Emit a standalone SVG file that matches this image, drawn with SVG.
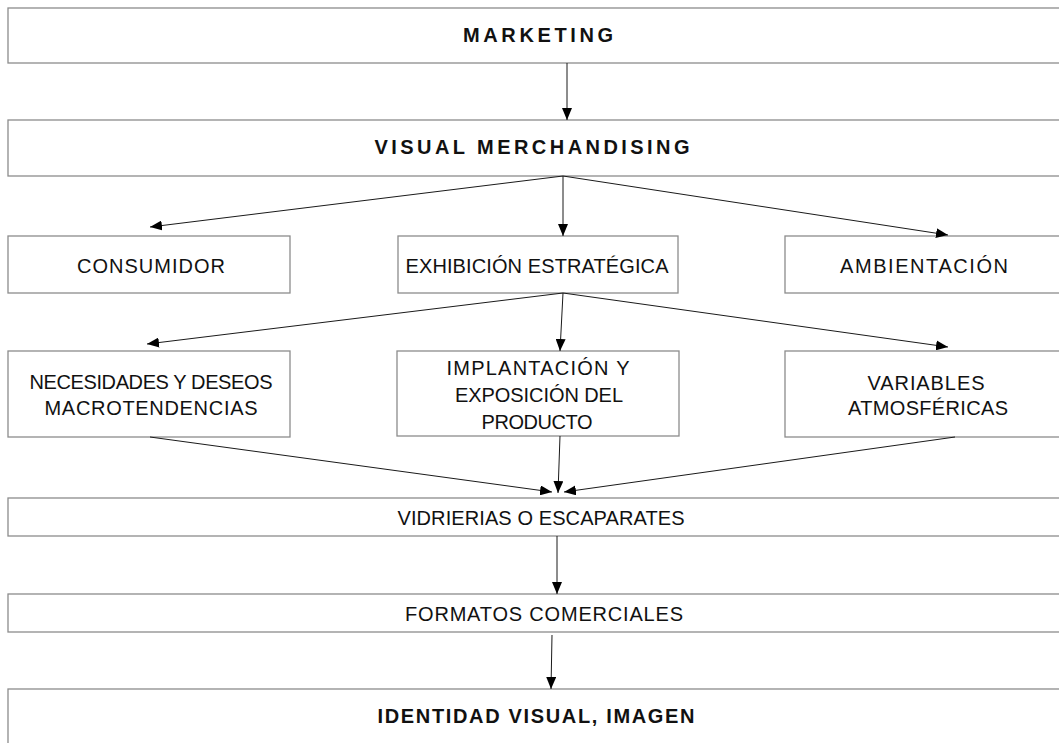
<svg xmlns="http://www.w3.org/2000/svg" width="1059" height="743" viewBox="0 0 1059 743">
<style>
.box{fill:#fff;stroke:#8c8c8c;stroke-width:1.3}
.t{font-family:"Liberation Sans",Arial,sans-serif;font-size:20px;fill:#111;text-anchor:middle;dominant-baseline:central}
.b{font-weight:bold;font-size:20px}
.c{stroke:#1a1a1a;stroke-width:1;fill:none;marker-end:url(#ah)}
</style>
<defs>
<marker id="ah" markerUnits="userSpaceOnUse" markerWidth="12" markerHeight="10" refX="12" refY="5" orient="auto">
<path d="M0,0 L12,5 L0,10 z" fill="#000"/>
</marker>
</defs>
<rect width="1059" height="743" fill="#fff"/>
<g id="n-marketing"><rect class="box" x="8" y="8" width="1070" height="55"/><text class="t b" x="538" y="35" textLength="150" lengthAdjust="spacing">MARKETING</text></g>
<g id="n-visual"><rect class="box" x="8" y="120" width="1070" height="56"/><text class="t b" x="532" y="147" textLength="315" lengthAdjust="spacing">VISUAL MERCHANDISING</text></g>
<g id="n-consumidor"><rect class="box" x="8" y="236" width="282" height="57"/><text class="t" x="151" y="266" textLength="148" lengthAdjust="spacing">CONSUMIDOR</text></g>
<g id="n-exhibicion"><rect class="box" x="398" y="236" width="280" height="57"/><text class="t" x="537" y="266" textLength="263" lengthAdjust="spacing">EXHIBICIÓN ESTRATÉGICA</text></g>
<g id="n-ambientacion"><rect class="box" x="785" y="236" width="300" height="57"/><text class="t" x="924" y="266" textLength="168" lengthAdjust="spacing">AMBIENTACIÓN</text></g>
<g id="n-necesidades"><rect class="box" x="8" y="351" width="282" height="86"/><text class="t" x="151" y="382" textLength="243" lengthAdjust="spacing">NECESIDADES Y DESEOS</text><text class="t" x="151" y="408" textLength="213" lengthAdjust="spacing">MACROTENDENCIAS</text></g>
<g id="n-implantacion"><rect class="box" x="397" y="351" width="282" height="85"/><text class="t" x="538" y="368" textLength="183" lengthAdjust="spacing">IMPLANTACIÓN Y</text><text class="t" x="539" y="395" textLength="168" lengthAdjust="spacing">EXPOSICIÓN DEL</text><text class="t" x="537" y="422" textLength="111" lengthAdjust="spacing">PRODUCTO</text></g>
<g id="n-variables"><rect class="box" x="785" y="351" width="300" height="86"/><text class="t" x="926" y="383" textLength="117" lengthAdjust="spacing">VARIABLES</text><text class="t" x="928" y="408" textLength="160" lengthAdjust="spacing">ATMOSFÉRICAS</text></g>
<g id="n-vidrierias"><rect class="box" x="8" y="498" width="1070" height="38"/><text class="t" x="541" y="518" textLength="287" lengthAdjust="spacing">VIDRIERIAS O ESCAPARATES</text></g>
<g id="n-formatos"><rect class="box" x="8" y="594" width="1070" height="38"/><text class="t" x="544" y="614" textLength="278" lengthAdjust="spacing">FORMATOS COMERCIALES</text></g>
<g id="n-identidad"><rect class="box" x="8" y="689" width="1070" height="70"/><text class="t b" x="536" y="716" textLength="317" lengthAdjust="spacing">IDENTIDAD VISUAL, IMAGEN</text></g>
<g id="connectors">
<line class="c" x1="567" y1="63" x2="567" y2="120"/>
<line class="c" x1="563" y1="176" x2="563" y2="236"/>
<line class="c" x1="563" y1="176" x2="150" y2="227"/>
<line class="c" x1="563" y1="176" x2="948" y2="235"/>
<line class="c" x1="563" y1="293" x2="147" y2="344"/>
<line class="c" x1="563" y1="293" x2="560" y2="351"/>
<line class="c" x1="563" y1="293" x2="948" y2="347"/>
<line class="c" x1="150" y1="437" x2="552" y2="492"/>
<line class="c" x1="560" y1="436" x2="558" y2="493"/>
<line class="c" x1="955" y1="437" x2="564" y2="492"/>
<line class="c" x1="557" y1="536" x2="557" y2="594"/>
<line class="c" x1="552" y1="635" x2="551" y2="689"/>
</g>
</svg>
